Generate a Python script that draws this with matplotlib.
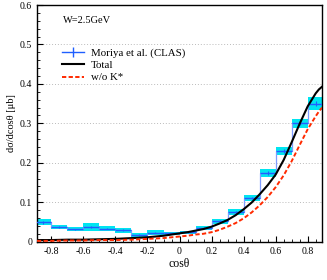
import matplotlib
matplotlib.use("Agg")
import matplotlib.pyplot as plt
from matplotlib.patches import Rectangle
from matplotlib.lines import Line2D
import numpy as np

# CLAS data (Moriya et al.), W = 2.5 GeV
bin_lo = [-0.9, -0.8, -0.7, -0.6, -0.5, -0.4, -0.3, -0.2, -0.1,
          0.0, 0.1, 0.2, 0.3, 0.4, 0.5, 0.6, 0.7, 0.8]
bin_hi = [-0.8, -0.7, -0.6, -0.5, -0.4, -0.3, -0.2, -0.1, 0.0,
          0.1, 0.2, 0.3, 0.4, 0.5, 0.6, 0.7, 0.8, 0.9]
dsig = [0.049, 0.037, 0.031, 0.037, 0.033, 0.029, 0.017, 0.023, 0.021,
        0.024, 0.034, 0.052, 0.075, 0.111, 0.174, 0.230, 0.300, 0.350]
stat = [0.003, 0.002, 0.002, 0.003, 0.002, 0.002, 0.002, 0.002, 0.002,
        0.002, 0.002, 0.002, 0.003, 0.003, 0.004, 0.004, 0.005, 0.006]
sys_err = [0.008, 0.005, 0.005, 0.010, 0.007, 0.006, 0.005, 0.006, 0.004,
           0.004, 0.005, 0.006, 0.007, 0.008, 0.009, 0.010, 0.011, 0.017]

# model curves
x_th = [-0.89, -0.8, -0.7, -0.6, -0.5, -0.4, -0.3, -0.2, -0.1, 0.0, 0.05,
        0.1, 0.15, 0.2, 0.25, 0.3, 0.35, 0.4, 0.45, 0.5, 0.55, 0.6, 0.65,
        0.7, 0.75, 0.8, 0.85, 0.87, 0.89]
total = [0.004, 0.004, 0.005, 0.005, 0.006, 0.007, 0.009, 0.011, 0.015,
         0.021, 0.024, 0.028, 0.032, 0.038, 0.046, 0.055, 0.067, 0.082,
         0.099, 0.120, 0.143, 0.170, 0.207, 0.252, 0.299, 0.343, 0.376, 0.386, 0.393]
no_kstar = [0.002, 0.002, 0.003, 0.003, 0.004, 0.004, 0.005, 0.007, 0.009,
            0.013, 0.015, 0.018, 0.020, 0.024, 0.030, 0.038, 0.047, 0.059,
            0.074, 0.092, 0.113, 0.138, 0.168, 0.204, 0.245, 0.285, 0.318, 0.330, 0.340]

plt.rcParams['font.family'] = ['Liberation Serif', 'DejaVu Serif']
plt.rcParams['mathtext.fontset'] = 'stix'

fig = plt.figure(figsize=(3.27, 2.8), dpi=100)
ax = fig.add_axes([0.113, 0.137, 0.872, 0.845])

for lo, hi, y, s in zip(bin_lo, bin_hi, dsig, sys_err):
    ax.add_patch(Rectangle((lo, y - s), hi - lo, 2 * s, facecolor='#00e5f0',
                           edgecolor='none', zorder=1))

# histogram outline
edges = bin_lo + [bin_hi[-1]]
ax.stairs(dsig, edges, color='#7f9cff', lw=0.9, zorder=2)
ax.hlines(dsig, bin_lo, bin_hi, color='#1f5fff', lw=1.0, zorder=3)
centers = [(a + b) / 2 for a, b in zip(bin_lo, bin_hi)]
ax.errorbar(centers, dsig, yerr=stat, fmt='none', ecolor='#1f5fff',
            elinewidth=0.8, capsize=0, zorder=3)

ax.plot(x_th, total, color='black', lw=1.5, zorder=4)
ax.plot(x_th, no_kstar, color='#ff2a00', lw=1.4, ls=(0, (2.2, 1.2)), zorder=4)

ax.set_xlim(-0.89, 0.89)
ax.set_ylim(0, 0.6)
ax.set_xticks(np.arange(-0.8, 0.81, 0.2))
ax.set_xticklabels(['-0.8', '-0.6', '-0.4', '-0.2', '0', '0.2', '0.4', '0.6', '0.8'])
ax.set_xticks(np.arange(-0.85, 0.86, 0.05), minor=True)
ax.set_yticks([0, 0.1, 0.2, 0.3, 0.4, 0.5, 0.6])
ax.set_yticklabels(['0', '0.1', '0.2', '0.3', '0.4', '0.5', '0.6'])
ax.set_yticks(np.arange(0, 0.6, 0.02), minor=True)
ax.tick_params(which='both', direction='in', labelsize=7, top=False, right=False)
ax.tick_params(which='major', length=4, width=0.8)
ax.tick_params(which='minor', length=2, width=0.6)
for y in [0.1, 0.2, 0.3, 0.4, 0.5]:
    ax.axhline(y, color='#bbbbbb', lw=0.7, ls=(0, (1, 2)), zorder=0)
for sp in ax.spines.values():
    sp.set_linewidth(1.0)

ax.set_xlabel('cosθ', fontsize=8.5, labelpad=2)
ax.set_ylabel('dσ/dcosθ [μb]', fontsize=7.5, labelpad=3)

ax.text(-0.73, 0.562, 'W=2.5GeV', fontsize=7.5, va='center', ha='left')

handles = [
    Line2D([0], [0], color='#1f5fff', lw=1.0, marker='|', markersize=7),
    Line2D([0], [0], color='black', lw=1.5),
    Line2D([0], [0], color='#ff2a00', lw=1.4, ls=(0, (2.2, 1.2))),
]
ax.legend(handles, ['Moriya et al. (CLAS)', 'Total', 'w/o K*'],
          loc='upper left', bbox_to_anchor=(0.055, 0.86), frameon=False,
          fontsize=7.8, handlelength=2.0, handletextpad=0.6, labelspacing=0.25)

fig.savefig('out.png', dpi=100)
